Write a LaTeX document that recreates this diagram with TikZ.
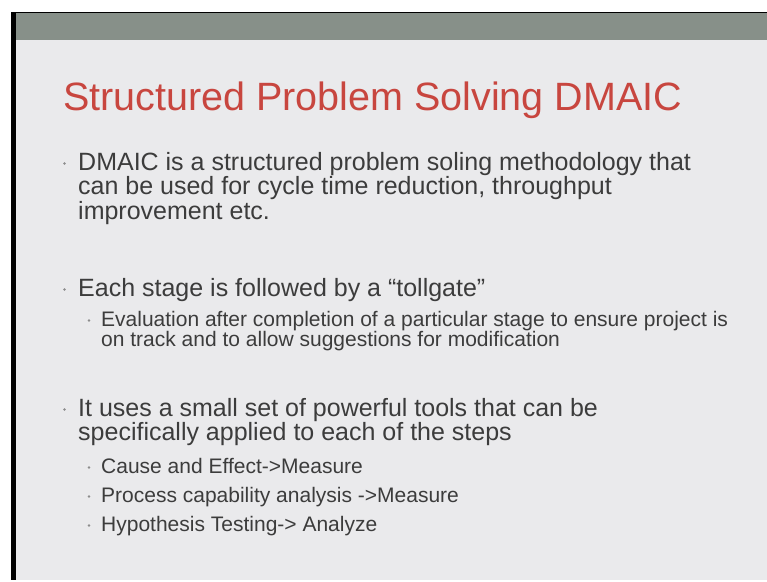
\documentclass[tikz,border=0pt]{standalone}
\usepackage{fontspec}
\setmainfont{Liberation Sans}
\definecolor{slidebg}{HTML}{EAEAEC}
\definecolor{barcol}{HTML}{879089}
\definecolor{titlered}{HTML}{C8463F}
\definecolor{bodygray}{HTML}{3C3C3C}
\definecolor{dotgray}{HTML}{8C8C8C}
\tikzset{
  slidetitle/.style={anchor=base west, inner sep=0pt, text=titlered, font=\fontsize{39.5}{40}\selectfont},
  bulletone/.style={anchor=base west, inner sep=0pt, align=left, text=bodygray, font=\fontsize{25}{24.5}\selectfont},
  bullettwo/.style={anchor=base west, inner sep=0pt, align=left, text=bodygray, font=\fontsize{21}{20}\selectfont},
  bulletdot/.style={circle, fill=dotgray, inner sep=0pt, minimum size=2.6pt}
}
\begin{document}
\begin{tikzpicture}[x=1pt, y=-1pt]
  % Frame
  \fill[white] (0,0) rectangle (767,581);
  \useasboundingbox (0,0) rectangle (767,581);
  \fill[slidebg] (11,12) rectangle (767,580);
  \fill[barcol] (16,13) rectangle (767,40);
  \fill[black] (11,12) rectangle (16,580);
  \draw[black, line width=1.5pt] (11,12.7) -- (767,12.7);

  % Title
  \node[slidetitle] (title) at (63,110) {Structured Problem Solving DMAIC};

  % First level (base = last line)
  \node[bulletdot] (dotintro) at (64.5,163.5) {};
  \node[bulletone] (intro) at (78,219) {DMAIC is a structured problem soling methodology that\\can be used for cycle time reduction, throughput\\improvement etc.};
  \node[bulletdot] (dottollgate) at (64.5,289.5) {};
  \node[bulletone] (tollgate) at (78,296) {Each stage is followed by a “tollgate”};
  \node[bulletdot] (dottools) at (64.5,409.5) {};
  \node[bulletone] (tools) at (78,440.5) {It uses a small set of powerful tools that can be\\specifically applied to each of the steps};

  % Second level
  \node[bulletdot] (dotevaluation) at (89,320.5) {};
  \node[bullettwo] (evaluation) at (101,346) {Evaluation after completion of a particular stage to ensure project is\\on track and to allow suggestions for modification};
  \node[bulletdot] (dotcause) at (89,467.5) {};
  \node[bullettwo] (causeeffect) at (101,473) {Cause and Effect->Measure};
  \node[bulletdot] (dotcapability) at (89,496.5) {};
  \node[bullettwo] (capability) at (101,502) {Process capability analysis ->Measure};
  \node[bulletdot] (dothypothesis) at (89,525.5) {};
  \node[bullettwo] (hypothesis) at (101,531) {Hypothesis Testing-> Analyze};
\end{tikzpicture}
\end{document}
